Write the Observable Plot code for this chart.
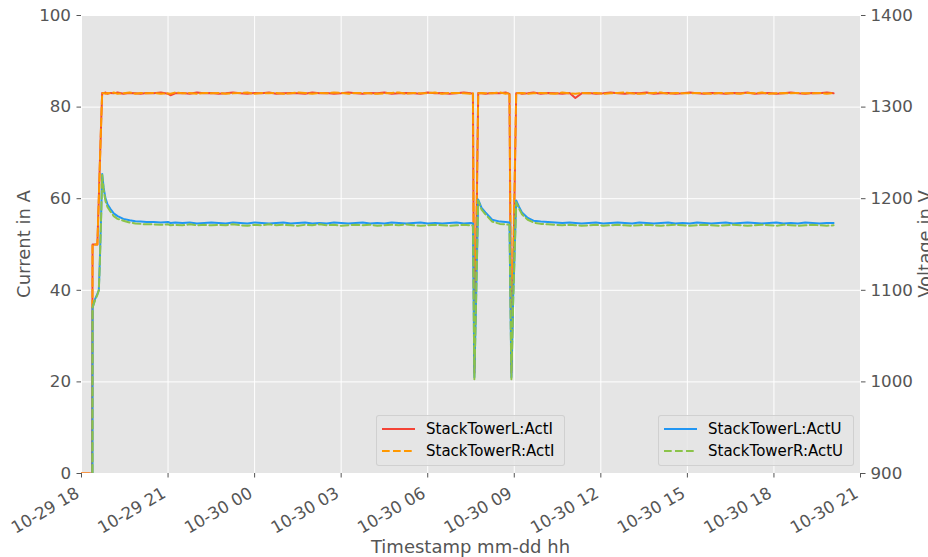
<!DOCTYPE html>
<html><head><meta charset="utf-8">
<script src="https://cdn.jsdelivr.net/npm/d3@7"></script>
<script src="https://cdn.jsdelivr.net/npm/@observablehq/plot@0.6"></script>
<style>
html,body{margin:0;padding:0;background:#fff;overflow:hidden;}
#wrap{position:relative;width:928px;height:557px;font-family:"DejaVu Sans",sans-serif;overflow:hidden;}
#wrap > svg{position:absolute;left:0;top:0;}
.legend{position:absolute;box-sizing:border-box;border:1px solid rgba(204,204,204,0.85);border-radius:3px;background:rgba(229,229,229,0.85);}
.row{position:absolute;height:20px;line-height:20px;font-size:15px;color:#000;white-space:nowrap;}
.row svg{position:absolute;top:5px;}
.row span{position:absolute;top:0;}
</style></head><body><div id="wrap"></div>
<script>
const seriesNames = ["StackTowerL:ActI", "StackTowerR:ActI", "StackTowerL:ActU", "StackTowerR:ActU"];
const seriesColors = ["#F44336", "#FF9800", "#2196F3", "#8BC34A"];

// minutes after 10-29 18:00
const minutes = [
  0, 22, 23, 28, 33, 36, 38, 41, 43, 46,
  50, 54, 60, 67, 75, 87, 100, 112, 123, 135,
  150, 165, 180, 185, 195, 210, 225, 240, 255, 270,
  285, 300, 315, 330, 345, 360, 375, 390, 405, 420,
  435, 450, 465, 480, 495, 510, 525, 540, 555, 570,
  585, 600, 615, 630, 645, 660, 675, 690, 705, 720,
  735, 750, 765, 780, 795, 810, 814, 817, 821, 825,
  832, 840, 854, 870, 882, 890, 894, 898, 904, 910,
  916, 928, 940, 955, 970, 985, 1000, 1015, 1027, 1040,
  1055, 1070, 1085, 1100, 1115, 1130, 1145, 1160, 1175, 1190,
  1205, 1220, 1235, 1250, 1265, 1280, 1295, 1310, 1325, 1340,
  1355, 1370, 1385, 1400, 1415, 1430, 1445, 1460, 1475, 1490,
  1505, 1520, 1535, 1550, 1564
];

// current in A
const currentL = [
  0, 0, 50, 50, 50, 60, 67, 77, 83.1, 83.0,
  83.2, 82.9, 83.1, 83.0, 83.2, 82.9, 83.1, 83.0, 82.9, 83.1,
  83.0, 83.2, 82.9, 82.6, 83.0, 83.1, 82.9, 83.2, 83.0, 83.1,
  82.9, 83.0, 83.2, 83.0, 82.9, 83.1, 83.0, 83.2, 82.9, 83.0,
  83.1, 83.0, 82.9, 83.2, 83.0, 83.1, 82.9, 83.0, 83.2, 83.0,
  82.9, 83.1, 83.0, 83.2, 82.9, 83.0, 83.1, 83.0, 82.9, 83.2,
  83.0, 83.1, 82.9, 83.0, 83.2, 83.0, 82.9, 22, 50, 83.1,
  83.0, 82.9, 83.1, 83.0, 83.2, 82.9, 22, 45, 83.0, 83.1,
  82.9, 83.0, 83.2, 82.9, 83.1, 83.0, 82.9, 83.1, 82.0, 83.0,
  83.1, 82.9, 83.0, 83.2, 83.0, 82.9, 83.1, 83.0, 83.2, 82.9,
  83.0, 83.1, 82.9, 83.0, 83.2, 83.0, 82.9, 83.1, 83.0, 82.9,
  83.1, 83.0, 83.2, 82.9, 83.0, 83.1, 82.9, 83.0, 83.2, 83.0,
  82.9, 83.1, 83.0, 83.2, 83.0
];
const currentR = [
  0, 0, 50, 50, 50, 60, 67, 77, 83.0, 83.1,
  82.9, 83.1, 83.0, 83.2, 82.9, 83.0, 83.2, 82.9, 83.1, 83.0,
  83.1, 82.9, 83.0, 82.9, 83.2, 83.0, 83.1, 82.9, 83.1, 83.0,
  83.1, 82.9, 83.0, 83.1, 83.2, 82.9, 83.1, 83.0, 83.1, 82.9,
  83.0, 83.2, 83.1, 82.9, 83.1, 83.0, 83.2, 83.1, 82.9, 83.1,
  83.1, 83.0, 82.9, 83.0, 83.1, 83.2, 82.9, 83.1, 83.0, 83.0,
  83.2, 82.9, 83.1, 83.1, 83.0, 82.9, 83.1, 23, 52, 83.0,
  83.1, 83.0, 83.0, 83.2, 82.9, 83.1, 23, 48, 83.1, 83.0,
  83.1, 82.9, 83.0, 83.1, 83.0, 82.9, 83.2, 83.0, 82.9, 83.1,
  83.0, 83.1, 82.9, 83.0, 83.1, 83.2, 83.0, 82.9, 83.0, 83.1,
  83.2, 82.9, 83.1, 83.0, 83.0, 83.1, 83.0, 82.9, 83.1, 83.0,
  83.0, 82.9, 83.1, 83.0, 83.2, 82.9, 83.0, 83.1, 83.0, 83.1,
  83.0, 83.0, 83.1, 82.9, 83.1
];

// voltage in V
const voltageL = [
  0, 0, 1081, 1090, 1096, 1100, 1130, 1185, 1227, 1212,
  1200, 1194, 1189, 1184, 1181, 1178, 1176.5, 1175.5, 1175, 1174.5,
  1174.5, 1174, 1174.5, 1173.5, 1174, 1173.5, 1174, 1173, 1173.5, 1174,
  1173.5, 1173, 1174, 1173.5, 1173, 1174, 1173.5, 1173, 1173.5, 1174,
  1173, 1173.5, 1174, 1173, 1173.5, 1173, 1174, 1173.5, 1173, 1173.5,
  1174, 1173, 1173.5, 1173, 1174, 1173.5, 1173, 1173.5, 1174, 1173,
  1173.5, 1173, 1173.5, 1174, 1173, 1173.5, 1173, 1005, 1100, 1199,
  1190, 1185, 1177, 1175, 1174.5, 1174, 1005, 1095, 1198, 1191,
  1185, 1179, 1176, 1175, 1174.5, 1174, 1173.5, 1174, 1173.5, 1173,
  1173.5, 1174, 1173, 1173.5, 1174, 1173.5, 1173, 1174, 1173.5, 1173,
  1173.5, 1174, 1173, 1173.5, 1173, 1174, 1173.5, 1173, 1173.5, 1174,
  1173, 1173.5, 1174, 1173.5, 1173, 1173.5, 1174, 1173, 1173.5, 1173,
  1174, 1173.5, 1173, 1173.5, 1173.5
];
const voltageR = [
  0, 0, 1081, 1089, 1095, 1100, 1128, 1183, 1226, 1210,
  1197, 1191, 1186, 1181, 1178, 1176, 1174, 1173, 1172.5, 1172,
  1172, 1171.5, 1172, 1171, 1171.5, 1171, 1172, 1171, 1171.5, 1171,
  1171.5, 1171, 1172, 1171, 1170.5, 1171.5, 1171, 1172, 1171, 1171.5,
  1171, 1170.5, 1171.5, 1171, 1172, 1171, 1171.5, 1170.5, 1171, 1171.5,
  1171, 1171.5, 1170.5, 1171, 1171.5, 1171, 1172, 1171, 1170.5, 1171,
  1171.5, 1171, 1170.5, 1171, 1171.5, 1171, 1170.5, 1003, 1098, 1198,
  1188, 1183, 1175, 1172.5, 1172, 1171.5, 1003, 1093, 1196, 1189,
  1183, 1177, 1174, 1172.5, 1172, 1171.5, 1171, 1171.5, 1171, 1170.5,
  1171, 1171.5, 1170.5, 1171, 1171.5, 1171, 1170.5, 1171, 1171.5, 1171,
  1170.5, 1171, 1171.5, 1171, 1170.5, 1171, 1171.5, 1171, 1170.5, 1171,
  1171.5, 1171, 1170.5, 1171, 1171.5, 1171, 1170.5, 1171.5, 1171, 1170.5,
  1171, 1171.5, 1171, 1170.5, 1171
];

const currentTicks = [0, 20, 40, 60, 80, 100];
const voltageTicks = [900, 1000, 1100, 1200, 1300, 1400];

const start = Date.UTC(2023, 9, 29, 18, 0);
const end = Date.UTC(2023, 9, 30, 21, 0);
const iMin = 0, iMax = 100, vMin = 900, vMax = 1400;
const toLeft = v => iMin + (v - vMin) / (vMax - vMin) * (iMax - iMin);
const fromLeft = d => vMin + (d - iMin) / (iMax - iMin) * (vMax - vMin);

const rows = minutes.map((m, i) => ({
  t: new Date(start + m * 60000),
  iL: currentL[i], iR: currentR[i],
  uL: toLeft(voltageL[i]), uR: toLeft(voltageR[i])
}));
const xTicks = d3.utcHour.every(3).range(new Date(start), new Date(end + 1));
const xFmt = d3.utcFormat("%m-%d %H");

const dash = "7.7,3.3";
const tickColor = "#555";
const tickFont = 16.7;
const plot = Plot.plot({
  width: 928, height: 557,
  marginLeft: 81, marginRight: 68, marginTop: 15, marginBottom: 84,
  style: {fontFamily: '"DejaVu Sans", sans-serif', fontSize: "16px", background: "transparent", overflow: "visible"},
  x: {type: "utc", domain: [new Date(start), new Date(end)]},
  y: {domain: [iMin, iMax]},
  marks: [
    Plot.frame({fill: "#E5E5E5", stroke: "none"}),
    Plot.gridX(xTicks, {stroke: "white", strokeOpacity: 1, strokeWidth: 1}),
    Plot.gridY(currentTicks, {stroke: "white", strokeOpacity: 1, strokeWidth: 1}),
    Plot.lineY(rows, {x: "t", y: "iL", stroke: seriesColors[0], strokeWidth: 2, clip: true}),
    Plot.lineY(rows, {x: "t", y: "iR", stroke: seriesColors[1], strokeWidth: 2, strokeDasharray: dash, clip: true}),
    Plot.lineY(rows, {x: "t", y: "uL", stroke: seriesColors[2], strokeWidth: 2, clip: true}),
    Plot.lineY(rows, {x: "t", y: "uR", stroke: seriesColors[3], strokeWidth: 2, strokeDasharray: dash, clip: true}),
    Plot.axisX(xTicks, {tickFormat: () => "", tickSize: 4.5, tickPadding: 0, color: tickColor, label: null}),
    Plot.text(xTicks, {x: d => d, text: d => xFmt(d), frameAnchor: "bottom", lineAnchor: "bottom", textAnchor: "end", rotate: -30, dx: -1, dy: 23, fontSize: tickFont, fill: tickColor}),
    Plot.axisY(currentTicks, {anchor: "left", tickSize: 4.5, tickPadding: 6, fontSize: tickFont, color: tickColor, label: null}),
    Plot.axisY(voltageTicks.map(toLeft), {anchor: "right", tickFormat: d => String(Math.round(fromLeft(d))), tickSize: 4.5, tickPadding: 5.5, fontSize: tickFont, color: tickColor, label: null})
  ]
});

const svg = d3.select(plot);
const lab = (x, y, rot, text) => svg.append("text")
  .attr("transform", `translate(${x},${y}) rotate(${rot})`)
  .attr("text-anchor", "middle")
  .attr("fill", "#555").attr("font-size", "18px")
  .attr("font-family", '"DejaVu Sans", sans-serif')
  .text(text);
lab(30, 244, -90, "Current in A");
lab(470.5, 553, 0, "Timestamp mm-dd hh");
lab(931, 244, -90, "Voltage in V");

const wrap = document.getElementById("wrap");
wrap.appendChild(plot);

function legendBox(left, top, width, items) {
  const box = document.createElement("div");
  box.className = "legend";
  Object.assign(box.style, {left: left + "px", top: top + "px", width: width + "px", height: "51px"});
  items.forEach((it, k) => {
    const row = document.createElement("div");
    row.className = "row";
    row.style.left = "0px";
    row.style.top = (3 + k * 22) + "px";
    row.innerHTML = `<svg width="36" height="10" style="left:5px"><line x1="0" x2="33" y1="5" y2="5" stroke="${it.color}" stroke-width="2" ${it.dashed ? `stroke-dasharray="${dash}"` : ""}/></svg>`;
    const sp = document.createElement("span");
    sp.style.left = "49px";
    sp.textContent = it.name;
    row.appendChild(sp);
    box.appendChild(row);
  });
  wrap.appendChild(box);
}
legendBox(376, 415, 189, [
  {name: seriesNames[0], color: seriesColors[0], dashed: false},
  {name: seriesNames[1], color: seriesColors[1], dashed: true}
]);
legendBox(658, 415, 196, [
  {name: seriesNames[2], color: seriesColors[2], dashed: false},
  {name: seriesNames[3], color: seriesColors[3], dashed: true}
]);
</script></body></html>
